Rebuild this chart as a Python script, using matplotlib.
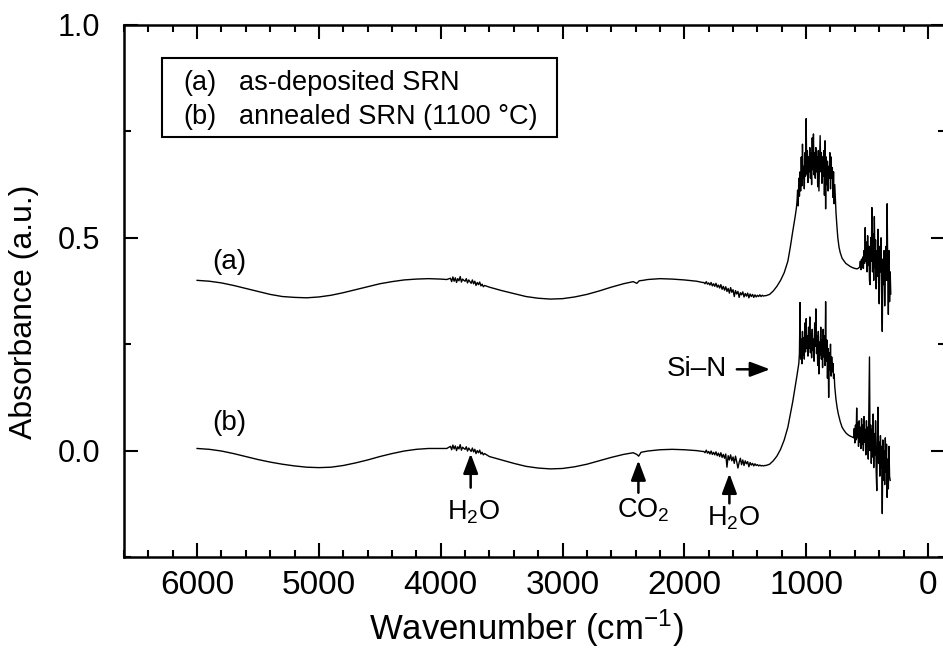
import numpy as np
import matplotlib
matplotlib.use("Agg")
import matplotlib.pyplot as plt
from matplotlib.ticker import MultipleLocator, FormatStrFormatter
from matplotlib.patches import Rectangle

plt.rcParams['font.family'] = ['Liberation Sans', 'DejaVu Sans']
plt.rcParams['mathtext.fontset'] = 'custom'
plt.rcParams['mathtext.rm'] = 'Liberation Sans'
plt.rcParams['mathtext.it'] = 'Liberation Sans:italic'
plt.rcParams['mathtext.default'] = 'regular'

# ---- spectrum (a): as-deposited SRN ----
# smooth interference fringes
a_wn1 = [6000, 5900, 5800, 5700, 5600, 5500, 5400, 5300, 5200, 5100, 5000,
         4900, 4800, 4700, 4600, 4500, 4400, 4300, 4200, 4100, 4000, 3950]
a_ab1 = [0.400, 0.398, 0.394, 0.388, 0.381, 0.374, 0.367, 0.362, 0.360, 0.359, 0.361,
         0.365, 0.371, 0.378, 0.385, 0.392, 0.397, 0.401, 0.403, 0.404, 0.403, 0.402]
# water band 3920 -> 3640
a_h2o1 = [0.405, 0.397, 0.408, 0.398, 0.406, 0.395, 0.404, 0.399, 0.409, 0.396,
          0.403, 0.400, 0.398, 0.404, 0.394, 0.401, 0.397, 0.393, 0.401, 0.392,
          0.398, 0.388, 0.395, 0.390, 0.396, 0.387, 0.391, 0.385, 0.388]
a_wn2 = [3600, 3500, 3400, 3300, 3200, 3100, 3000, 2900, 2800, 2700, 2600,
         2500, 2420, 2390, 2370, 2340, 2300, 2200, 2100, 2000, 1900, 1850]
a_ab2 = [0.384, 0.376, 0.369, 0.362, 0.358, 0.356, 0.357, 0.361, 0.367, 0.375, 0.384,
         0.392, 0.397, 0.393, 0.399, 0.400, 0.402, 0.404, 0.403, 0.401, 0.398, 0.395]
# water band 1840 -> 1340
a_h2o2 = [0.395, 0.392, 0.397, 0.391, 0.394, 0.389, 0.395, 0.387, 0.392, 0.386,
          0.393, 0.384, 0.389, 0.382, 0.390, 0.379, 0.386, 0.377, 0.385, 0.374,
          0.381, 0.370, 0.383, 0.372, 0.378, 0.362, 0.376, 0.368, 0.374, 0.360,
          0.371, 0.366, 0.373, 0.361, 0.369, 0.363, 0.370, 0.359, 0.368, 0.362,
          0.367, 0.360, 0.366, 0.361, 0.365, 0.362, 0.366, 0.362, 0.365, 0.363, 0.364]
a_wn3 = [1330, 1300, 1270, 1240, 1210, 1180, 1150, 1130, 1110, 1090, 1080]
a_ab3 = [0.364, 0.367, 0.375, 0.386, 0.400, 0.418, 0.445, 0.478, 0.515, 0.550, 0.570]
# Si-N band 1075 -> 760
a_sin = [0.585, 0.612, 0.575, 0.640, 0.598, 0.655, 0.610, 0.690, 0.622, 0.720,
         0.640, 0.668, 0.615, 0.700, 0.645, 0.780, 0.650, 0.705, 0.630, 0.690,
         0.655, 0.712, 0.640, 0.700, 0.625, 0.735, 0.660, 0.744, 0.648, 0.700,
         0.640, 0.712, 0.655, 0.690, 0.620, 0.705, 0.610, 0.672, 0.740, 0.655,
         0.700, 0.628, 0.690, 0.645, 0.705, 0.600, 0.728, 0.568, 0.690, 0.625,
         0.680, 0.610, 0.668, 0.640, 0.700, 0.615, 0.690, 0.640, 0.665, 0.595,
         0.655, 0.580, 0.625, 0.590]
a_wn4 = [755, 748, 740, 730, 720, 705, 690, 675, 660, 640, 620, 600, 580, 565]
a_ab4 = [0.560, 0.530, 0.500, 0.478, 0.465, 0.452, 0.446, 0.440, 0.437, 0.433,
         0.430, 0.428, 0.427, 0.430]
# far-IR end 560 -> 305
a_tail = [0.432, 0.445, 0.425, 0.450, 0.430, 0.455, 0.428, 0.470, 0.440, 0.524,
          0.445, 0.490, 0.420, 0.505, 0.435, 0.480, 0.400, 0.390, 0.500, 0.445,
          0.571, 0.420, 0.510, 0.400, 0.550, 0.430, 0.495, 0.380, 0.470, 0.410,
          0.520, 0.395, 0.345, 0.480, 0.420, 0.500, 0.360, 0.280, 0.450, 0.390,
          0.470, 0.340, 0.430, 0.480, 0.400, 0.580, 0.420, 0.320, 0.470, 0.350,
          0.420, 0.368]

# ---- spectrum (b): annealed SRN (1100 C) ----
b_wn1 = a_wn1
b_ab1 = [0.005, 0.003, -0.001, -0.007, -0.014, -0.021, -0.027, -0.032, -0.036, -0.039, -0.040,
         -0.039, -0.035, -0.029, -0.022, -0.014, -0.007, -0.001, 0.003, 0.005, 0.005, 0.005]
b_h2o1 = [0.010, 0.002, 0.013, 0.004, 0.011, 0.000, 0.009, 0.004, 0.014, 0.001,
          0.008, 0.005, 0.003, 0.009, -0.001, 0.006, 0.002, -0.002, 0.006, -0.003,
          0.003, -0.007, 0.000, -0.005, 0.001, -0.008, -0.004, -0.010, -0.007]
b_wn2 = [3600, 3500, 3400, 3300, 3200, 3100, 3000, 2900, 2800, 2700, 2600,
         2500, 2420, 2390, 2375, 2355, 2300, 2200, 2100, 2000, 1900, 1850]
b_ab2 = [-0.014, -0.022, -0.030, -0.037, -0.041, -0.043, -0.042, -0.038, -0.032, -0.024, -0.016,
         -0.009, -0.005, -0.009, -0.013, -0.004, -0.001, 0.002, 0.003, 0.002, 0.000, -0.002]
b_h2o2 = [-0.002, -0.005, 0.001, -0.006, -0.002, -0.008, -0.001, -0.009, -0.004, -0.010,
          -0.003, -0.012, -0.006, -0.014, -0.005, -0.016, -0.009, -0.018, -0.008, -0.039,
          -0.012, -0.022, -0.010, -0.024, -0.015, -0.030, -0.013, -0.026, -0.041, -0.028,
          -0.018, -0.033, -0.022, -0.035, -0.024, -0.031, -0.026, -0.038, -0.028, -0.034,
          -0.030, -0.036, -0.031, -0.035, -0.033, -0.036, -0.034, -0.036, -0.035, -0.036, -0.035]
b_wn3 = [1330, 1300, 1270, 1240, 1210, 1180, 1150, 1130, 1110, 1090, 1076, 1060]
b_ab3 = [-0.035, -0.032, -0.024, -0.013, 0.003, 0.025, 0.055, 0.085, 0.115, 0.150, 0.175, 0.205]
# Si-N band 1055 -> 770
b_sin = [0.228, 0.348, 0.215, 0.262, 0.204, 0.280, 0.225, 0.265, 0.215, 0.300,
         0.232, 0.310, 0.240, 0.270, 0.222, 0.290, 0.240, 0.314, 0.230, 0.275,
         0.218, 0.285, 0.235, 0.262, 0.210, 0.300, 0.245, 0.333, 0.228, 0.270,
         0.200, 0.280, 0.180, 0.255, 0.225, 0.290, 0.215, 0.260, 0.195, 0.285,
         0.220, 0.270, 0.200, 0.350, 0.210, 0.260, 0.170, 0.240, 0.125, 0.230,
         0.190, 0.250, 0.175, 0.220, 0.185, 0.205, 0.170, 0.180]
b_wn4 = [765, 755, 745, 735, 720, 705, 690, 675, 660, 645, 630, 615]
b_ab4 = [0.150, 0.120, 0.100, 0.085, 0.068, 0.055, 0.048, 0.042, 0.038, 0.035, 0.033, 0.031]
# far-IR end 610 -> 310
b_tail = [0.030, 0.052, 0.018, 0.060, 0.025, 0.100, 0.030, 0.065, 0.010, 0.070,
          0.020, 0.055, 0.005, 0.075, 0.015, 0.060, 0.000, 0.080, 0.020, 0.050,
          -0.010, 0.070, 0.010, 0.055, -0.020, 0.090, 0.220, 0.000, 0.060, -0.030,
          0.050, -0.015, 0.086, -0.040, 0.040, -0.010, 0.070, -0.050, -0.094, 0.030,
          0.102, -0.030, 0.020, -0.060, 0.035, -0.040, 0.010, -0.148, 0.025, -0.070,
          0.000, -0.080, 0.030, -0.050, 0.015, -0.110, -0.020, -0.090, 0.010, -0.060,
          -0.070]


def build(parts):
    wn, ab = [], []
    for x, y in parts:
        wn.extend(x)
        ab.extend(y)
    return np.array(wn, float), np.array(ab, float)


def grid(start, stop, vals):
    return np.linspace(start, stop, len(vals))


wn_a, ab_a = build([
    (a_wn1, a_ab1), (grid(3920, 3640, a_h2o1), a_h2o1),
    (a_wn2, a_ab2), (grid(1840, 1340, a_h2o2), a_h2o2),
    (a_wn3, a_ab3), (grid(1075, 760, a_sin), a_sin),
    (a_wn4, a_ab4), (grid(560, 305, a_tail), a_tail),
])
wn_b, ab_b = build([
    (b_wn1, b_ab1), (grid(3920, 3640, b_h2o1), b_h2o1),
    (b_wn2, b_ab2), (grid(1840, 1340, b_h2o2), b_h2o2),
    (b_wn3, b_ab3), (grid(1055, 770, b_sin), b_sin),
    (b_wn4, b_ab4), (grid(610, 310, b_tail), b_tail),
])

fig = plt.figure(figsize=(9.43, 6.59), dpi=100)
ax = fig.add_axes([124 / 943, 102 / 659, 821 / 943, 532 / 659])

ax.plot(wn_a, ab_a, color='black', lw=1.0)
ax.plot(wn_b, ab_b, color='black', lw=1.0)

ax.set_xlim(6600, -140)
ax.set_ylim(-0.25, 1.0)

ax.xaxis.set_major_locator(MultipleLocator(1000))
ax.xaxis.set_minor_locator(MultipleLocator(200))
ax.yaxis.set_major_locator(MultipleLocator(0.5))
ax.yaxis.set_minor_locator(MultipleLocator(0.25))
ax.yaxis.set_major_formatter(FormatStrFormatter('%.1f'))

ax.tick_params(which='both', direction='in', top=True, right=True, width=1.5)
ax.tick_params(which='major', length=10)
ax.tick_params(which='minor', length=5)
ax.tick_params(axis='x', labelsize=24, pad=9)
ax.tick_params(axis='y', labelsize=22, pad=17)
for s in ax.spines.values():
    s.set_linewidth(1.8)

ax.set_xlabel('Wavenumber (cm$^{-1}$)', fontsize=25, va='center')
ax.xaxis.set_label_coords(0.49, -0.134)
ax.set_ylabel('Absorbance (a.u.)', fontsize=23, va='center')
ax.yaxis.set_label_coords(-0.122, 0.461)

# legend box
ax.add_patch(Rectangle((0.046, 0.789), 0.481, 0.149, transform=ax.transAxes,
                       fill=False, lw=1.5, edgecolor='black'))
ax.text(0.072, 0.891, '(a)', transform=ax.transAxes, fontsize=19.5, va='center')
ax.text(0.140, 0.891, 'as-deposited SRN', transform=ax.transAxes, fontsize=19.5, va='center')
ax.text(0.072, 0.827, '(b)', transform=ax.transAxes, fontsize=19.5, va='center')
ax.text(0.140, 0.827, 'annealed SRN (1100 °C)', transform=ax.transAxes, fontsize=19.5, va='center')

# curve labels
ax.text(5732, 0.442, '(a)', fontsize=20, ha='center', va='center')
ax.text(5732, 0.066, '(b)', fontsize=20, ha='center', va='center')

arrow = dict(arrowstyle='-|>,head_length=1.2,head_width=0.45', color='black',
             lw=1.8, shrinkA=0, shrinkB=0)
ax.annotate('', xy=(3754, -0.007), xytext=(3754, -0.087), arrowprops=arrow)
ax.annotate('', xy=(2377, -0.023), xytext=(2377, -0.099), arrowprops=arrow)
ax.annotate('', xy=(1630, -0.054), xytext=(1630, -0.124), arrowprops=arrow)
ax.annotate('', xy=(1296, 0.191), xytext=(1569, 0.191), arrowprops=arrow)

ax.text(3735, -0.145, 'H$_2$O', fontsize=19.5, ha='center', va='center')
ax.text(2339, -0.141, 'CO$_2$', fontsize=19.5, ha='center', va='center')
ax.text(1600, -0.160, 'H$_2$O', fontsize=19.5, ha='center', va='center')
ax.text(1898, 0.192, 'Si–N', fontsize=20, ha='center', va='center')

fig.savefig('out.png', dpi=100)
